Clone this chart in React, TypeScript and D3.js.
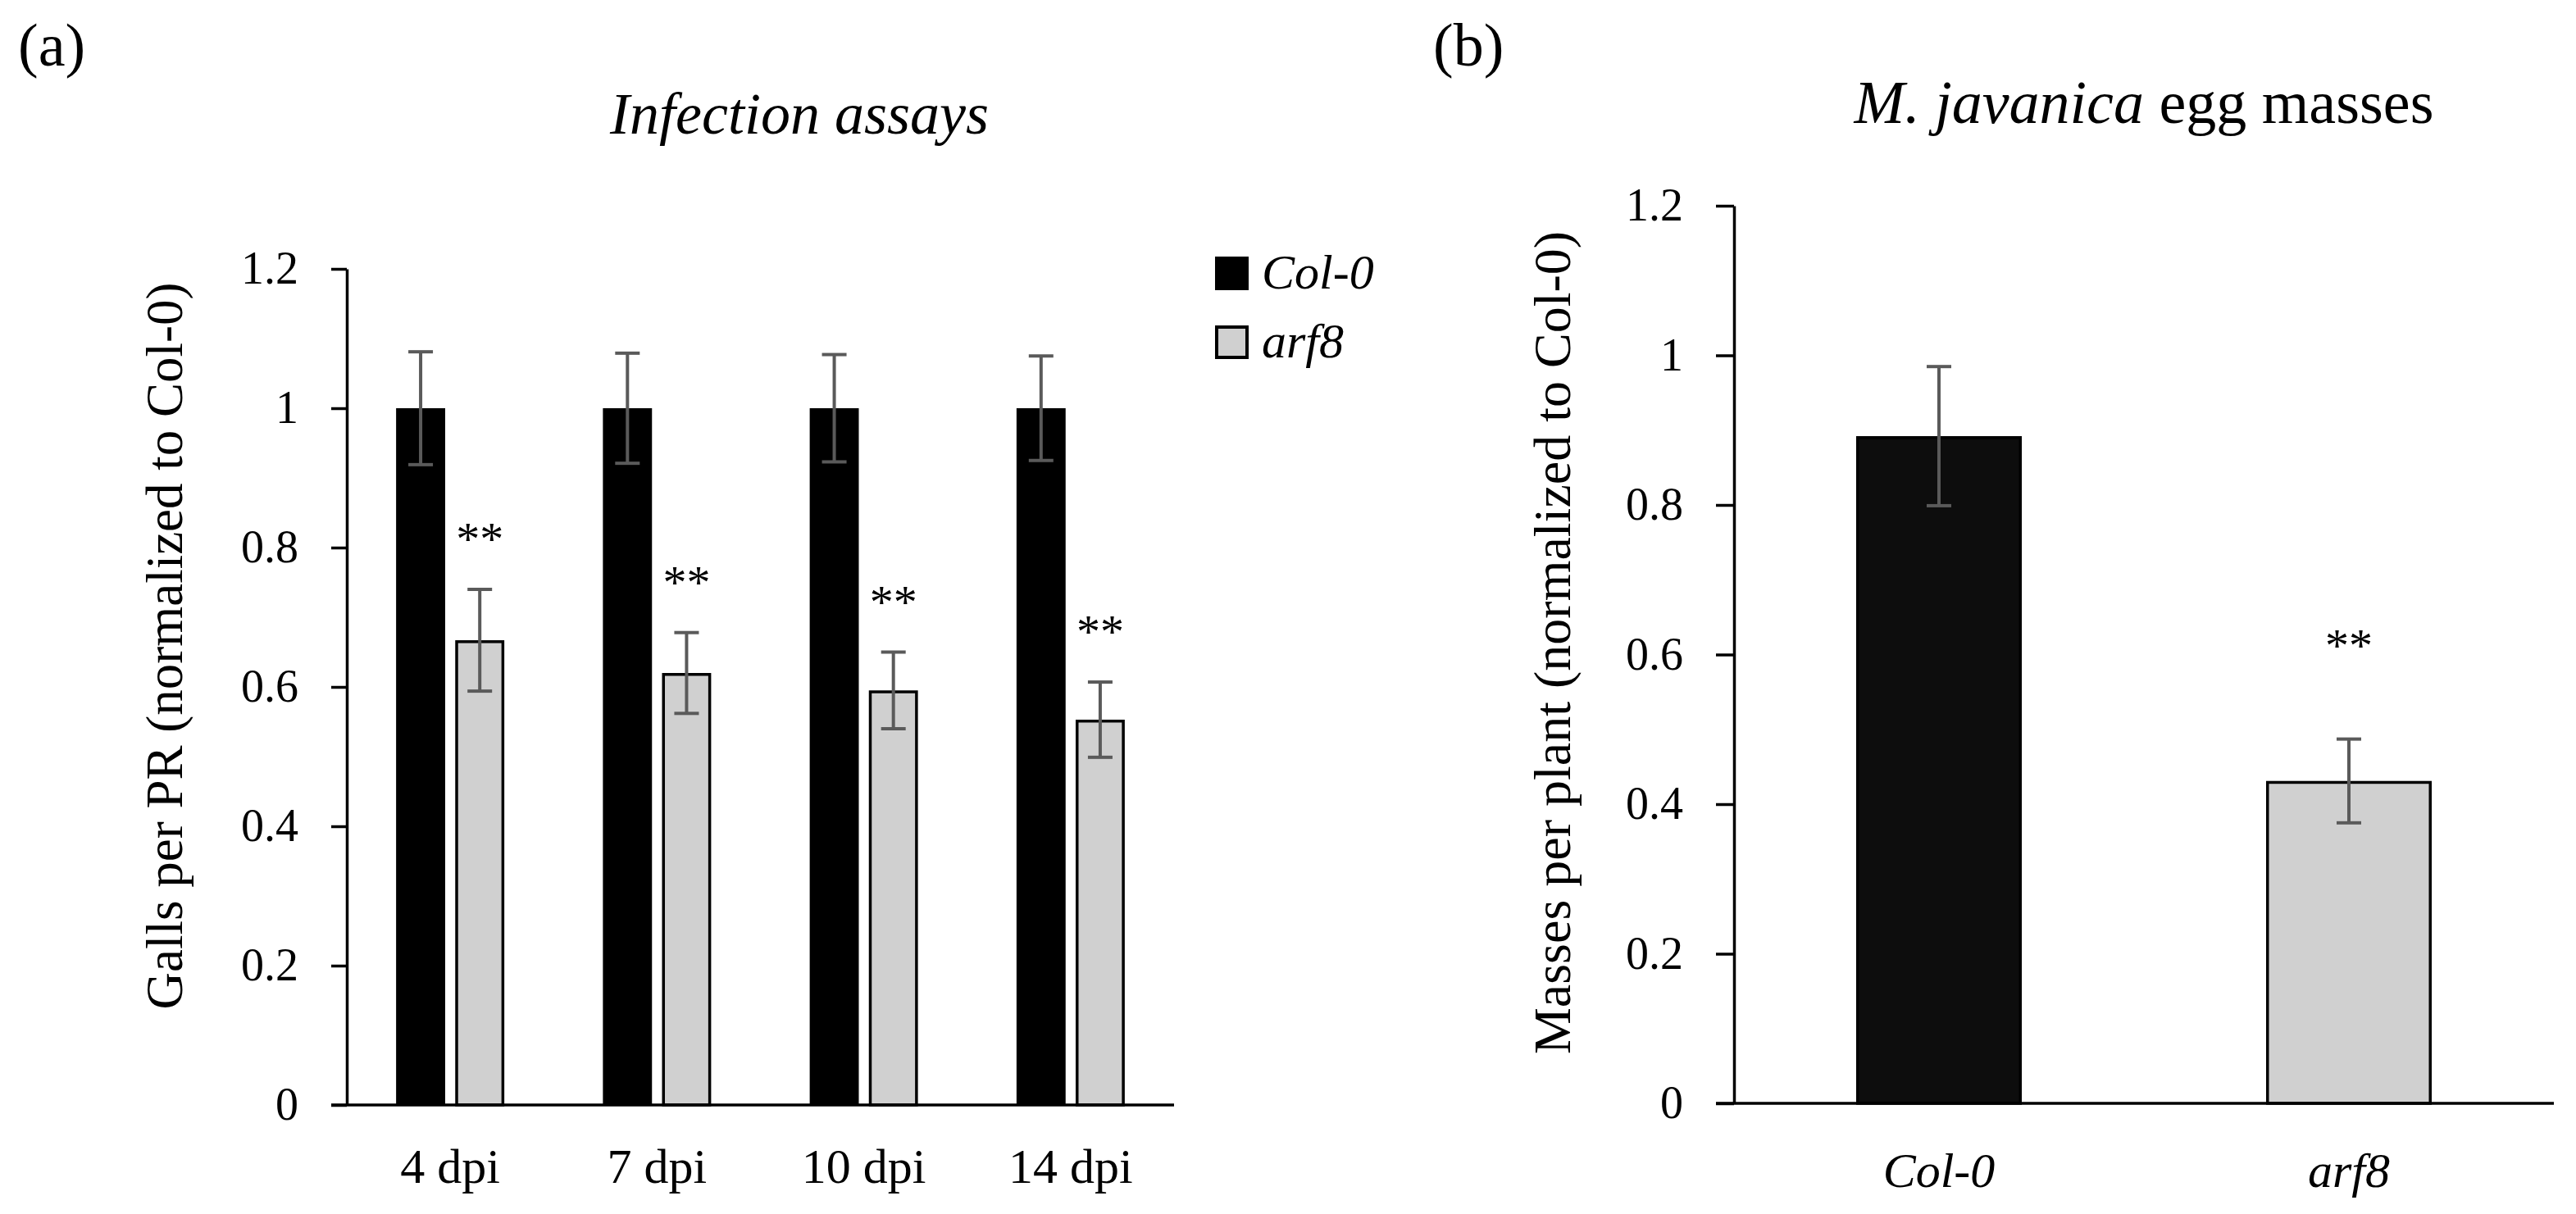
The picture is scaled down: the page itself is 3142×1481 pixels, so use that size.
import React, { useEffect, useRef } from 'react';
import * as d3 from 'd3';

// panel (a) - infection assays
const timepoints = ['4 dpi', '7 dpi', '10 dpi', '14 dpi'];
const genotypes = ['Col-0', 'arf8'];
const gallsCol0 = [1, 1, 1, 1];
const gallsCol0Err = [0.081, 0.079, 0.077, 0.075];
const gallsArf8 = [0.667, 0.62, 0.595, 0.553];
const gallsArf8Err = [0.073, 0.058, 0.055, 0.054];
const gallsSig = ['**', '**', '**', '**'];

// panel (b) - egg masses
const eggMasses = [0.892, 0.431];
const eggMassesErr = [0.093, 0.056];
const eggSig = ['', '**'];

const yTicks = [0, 0.2, 0.4, 0.6, 0.8, 1, 1.2];

const W = 3142;
const H = 1481;
const FONT = '"Liberation Serif", "Times New Roman", serif';
const BLACK = '#000000';
const GREY = '#d0d0d0';
const ERR = '#5a5a5a';

const fmt = (d: d3.NumberValue) => String(+(+d).toFixed(1));

const App: React.FC = () => {
  const svgRef = useRef<SVGSVGElement>(null);

  useEffect(() => {
    if (!svgRef.current) return;
    const svg = d3.select(svgRef.current);
    svg.selectAll('*').remove();

    svg.append('rect').attr('width', W).attr('height', H).attr('fill', '#fff');

    const styleAxis = (g: d3.Selection<SVGGElement, unknown, null, undefined>, size: number) => {
      g.select('.domain').attr('stroke', '#000').attr('stroke-width', 3.5);
      g.selectAll('.tick line').attr('stroke', '#000').attr('stroke-width', 3.5);
      g.selectAll('.tick text')
        .attr('font-family', FONT)
        .attr('font-size', size)
        .attr('fill', '#000');
    };

    // ---------- panel (a) ----------
    const xA = d3.scaleBand<string>().domain(timepoints).range([423, 1432]).padding(0);
    const subA = d3.scaleBand<string>().domain(genotypes).range([-66, 66]).paddingInner(0.17);
    const yA = d3.scaleLinear().domain([0, 1.2]).range([1348, 328]);

    const gA = svg.append('g');

    const axA = gA.append('g')
      .attr('transform', 'translate(423,0)')
      .call(d3.axisLeft(yA).tickValues(yTicks).tickFormat(fmt).tickSize(19).tickSizeOuter(0).tickPadding(40));
    styleAxis(axA, 56);

    const rowsA = timepoints.map((t, i) => ({
      t,
      vals: [
        { g: 'Col-0', v: gallsCol0[i], e: gallsCol0Err[i] },
        { g: 'arf8', v: gallsArf8[i], e: gallsArf8Err[i] },
      ],
      sig: gallsSig[i],
    }));

    rowsA.forEach(row => {
      const cx = (xA(row.t) as number) + xA.bandwidth() / 2;
      row.vals.forEach(d => {
        const x0 = cx + (subA(d.g) as number);
        const bw = subA.bandwidth();
        if (d.g === 'Col-0') {
          gA.append('rect')
            .attr('x', x0).attr('y', yA(d.v))
            .attr('width', bw).attr('height', yA(0) - yA(d.v))
            .attr('fill', BLACK);
        } else {
          gA.append('rect')
            .attr('x', x0 + 1.75).attr('y', yA(d.v) + 1.75)
            .attr('width', bw - 3.5).attr('height', yA(0) - yA(d.v) - 1.75)
            .attr('fill', GREY).attr('stroke', BLACK).attr('stroke-width', 3.5);
        }
        const ex = x0 + bw / 2;
        gA.append('line')
          .attr('x1', ex).attr('x2', ex)
          .attr('y1', yA(d.v + d.e)).attr('y2', yA(d.v - d.e))
          .attr('stroke', ERR).attr('stroke-width', 4);
        [d.v + d.e, d.v - d.e].forEach(v => {
          gA.append('line')
            .attr('x1', ex - 15).attr('x2', ex + 15)
            .attr('y1', yA(v)).attr('y2', yA(v))
            .attr('stroke', ERR).attr('stroke-width', 4);
        });
      });
      const arf = row.vals[1];
      gA.append('text')
        .attr('x', cx + (subA('arf8') as number) + subA.bandwidth() / 2)
        .attr('y', yA(arf.v + arf.e) - 42)
        .attr('text-anchor', 'middle')
        .attr('font-family', FONT).attr('font-size', 58)
        .text(row.sig);
    });

    // x axis line
    gA.append('line')
      .attr('x1', 404).attr('x2', 1432)
      .attr('y1', yA(0)).attr('y2', yA(0))
      .attr('stroke', '#000').attr('stroke-width', 3.5);

    // x labels
    gA.selectAll('text.xlab')
      .data(timepoints)
      .enter()
      .append('text')
      .attr('class', 'xlab')
      .attr('x', d => (xA(d) as number) + xA.bandwidth() / 2)
      .attr('y', 1443)
      .attr('text-anchor', 'middle')
      .attr('font-family', FONT).attr('font-size', 60)
      .text(d => d);

    // y label
    gA.append('text')
      .attr('transform', `translate(222,${(yA(0) + yA(1.2)) / 2 - 50}) rotate(-90)`)
      .attr('text-anchor', 'middle')
      .attr('font-family', FONT).attr('font-size', 63)
      .text('Galls per PR (normalized to Col-0)');

    // title + panel letter
    gA.append('text')
      .attr('x', 975).attr('y', 163)
      .attr('text-anchor', 'middle')
      .attr('font-family', FONT).attr('font-size', 72).attr('font-style', 'italic')
      .text('Infection assays');
    gA.append('text')
      .attr('x', 22).attr('y', 80)
      .attr('font-family', FONT).attr('font-size', 74)
      .text('(a)');

    // legend
    const legend = gA.append('g').attr('transform', 'translate(1482,313)');
    genotypes.forEach((g, i) => {
      const item = legend.append('g').attr('transform', `translate(0,${i * 84})`);
      if (i === 0) {
        item.append('rect').attr('width', 41).attr('height', 41).attr('fill', BLACK);
      } else {
        item.append('rect').attr('x', 2).attr('y', 2).attr('width', 37).attr('height', 37)
          .attr('fill', GREY).attr('stroke', BLACK).attr('stroke-width', 4);
      }
      item.append('text')
        .attr('x', 57).attr('y', 39)
        .attr('font-family', FONT).attr('font-size', 60).attr('font-style', 'italic')
        .text(g);
    });

    // ---------- panel (b) ----------
    const xB = d3.scaleBand<string>().domain(genotypes).range([2115, 3115]).padding(0);
    const yB = d3.scaleLinear().domain([0, 1.2]).range([1346, 251]);
    const gB = svg.append('g');

    const axB = gB.append('g')
      .attr('transform', 'translate(2115,0)')
      .call(d3.axisLeft(yB).tickValues(yTicks).tickFormat(fmt).tickSize(22).tickSizeOuter(0).tickPadding(40));
    styleAxis(axB, 56);

    const barW = xB.bandwidth() * 0.404;
    genotypes.forEach((g, i) => {
      const cx = (xB(g) as number) + xB.bandwidth() / 2;
      const v = eggMasses[i];
      const e = eggMassesErr[i];
      gB.append('rect')
        .attr('x', cx - barW / 2 + 1.75).attr('y', yB(v) + 1.75)
        .attr('width', barW - 3.5).attr('height', yB(0) - yB(v) - 1.75)
        .attr('fill', i === 0 ? '#0d0d0d' : GREY)
        .attr('stroke', BLACK).attr('stroke-width', 3.5);
      gB.append('line')
        .attr('x1', cx).attr('x2', cx)
        .attr('y1', yB(v + e)).attr('y2', yB(v - e))
        .attr('stroke', ERR).attr('stroke-width', 4);
      [v + e, v - e].forEach(val => {
        gB.append('line')
          .attr('x1', cx - 15).attr('x2', cx + 15)
          .attr('y1', yB(val)).attr('y2', yB(val))
          .attr('stroke', ERR).attr('stroke-width', 4);
      });
      if (eggSig[i]) {
        gB.append('text')
          .attr('x', cx).attr('y', yB(v + e) - 95)
          .attr('text-anchor', 'middle')
          .attr('font-family', FONT).attr('font-size', 58)
          .text(eggSig[i]);
      }
    });

    gB.append('line')
      .attr('x1', 2093).attr('x2', 3115)
      .attr('y1', yB(0)).attr('y2', yB(0))
      .attr('stroke', '#000').attr('stroke-width', 3.5);

    gB.selectAll('text.xlab')
      .data(genotypes)
      .enter()
      .append('text')
      .attr('class', 'xlab')
      .attr('x', d => (xB(d) as number) + xB.bandwidth() / 2)
      .attr('y', 1448)
      .attr('text-anchor', 'middle')
      .attr('font-family', FONT).attr('font-size', 60).attr('font-style', 'italic')
      .text(d => d);

    gB.append('text')
      .attr('transform', `translate(1915,784) rotate(-90)`)
      .attr('text-anchor', 'middle')
      .attr('font-family', FONT).attr('font-size', 64)
      .text('Masses per plant (normalized to Col-0)');

    const tB = gB.append('text')
      .attr('x', 2615).attr('y', 150)
      .attr('text-anchor', 'middle')
      .attr('font-family', FONT).attr('font-size', 74);
    tB.append('tspan').attr('font-style', 'italic').text('M. javanica');
    tB.append('tspan').text(' egg masses');

    gB.append('text')
      .attr('x', 1748).attr('y', 80)
      .attr('font-family', FONT).attr('font-size', 74)
      .text('(b)');
  }, []);

  return (
    <svg
      ref={svgRef}
      width={W}
      height={H}
      style={{ position: 'absolute', left: 0, top: 0, background: '#fff' }}
    />
  );
};

export default App;
